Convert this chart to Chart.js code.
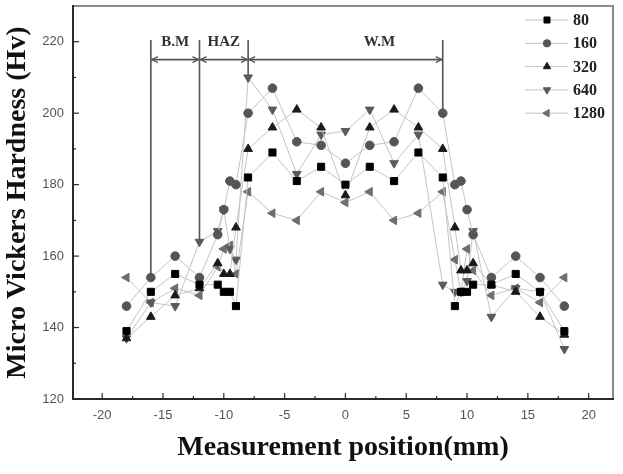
<!DOCTYPE html>
<html><head><meta charset="utf-8">
<script src="https://cdn.jsdelivr.net/npm/chart.js@4.4.0/dist/chart.umd.min.js"></script>
<style>html,body{margin:0;padding:0;background:#fff}canvas{display:block}</style>
</head><body>
<canvas id="c" width="623" height="474"></canvas>
<script>
// ---- data ----
const positions = [-18,-16,-14,-12,-10.5,-10,-9.5,-9,-8,-6,-4,-2,0,2,4,6,8,9,9.5,10,10.5,12,14,16,18];
const seriesNames = ['80','160','320','640','1280'];
const hv80   = [139,150,155,152,152,150,150,146,182,189,181,185,180,185,181,189,182,146,150,150,152,152,155,150,139];
const hv160  = [146,154,160,154,166,173,181,180,200,207,192,191,186,191,192,207,200,180,181,173,166,154,160,154,146];
const hv320  = [137,143,149,151,158,155,155,168,190,196,201,196,177,196,201,196,190,168,156,156,158,152,150,143,138];
const hv640  = [137,147,146,164,167,173,162,159,210,201,183,194,195,201,186,194,152,150,150,153,167,143,151,150,134];
const hv1280 = [154,147,151,149,157,162,163,155,178,172,170,178,175,178,170,172,178,159,150,162,156,149,151,147,154];
const xTickValues = [-20,-15,-10,-5,0,5,10,15,20];
const xMinorTicks = [-17.5,-12.5,-7.5,-2.5,2.5,7.5,12.5,17.5];
const yTickValues = [120,140,160,180,200,220];
const yMinorTicks = [130,150,170,190,210];
const xRange = [-22.4, 22];
const yRange = [120, 230];
const zoneBounds = [-16,-12,-8,8];
const zoneLineEnds = [155,164,210,200];
const zoneLineTop = 220.5;
const zoneArrowLevel = 215;
const zoneLabels = ['B.M','HAZ','W.M'];
const zoneLabelX = [-14,-10,2.8];
const zoneLabelLevel = 219;

// ---- styles ----
const markerStyles = [
  {pointStyle:'rect', color:'#000000', radius:5, rotation:0},
  {pointStyle:'circle', color:'#555555', radius:4.3, rotation:0},
  {pointStyle:'triangle', color:'#1a1a1a', radius:5, rotation:0},
  {pointStyle:'triangle', color:'#5a5a5a', radius:5, rotation:180},
  {pointStyle:'triangle', color:'#6e6e6e', radius:5, rotation:-90}
];
const allValues = [hv80,hv160,hv320,hv640,hv1280];
const datasets = allValues.map((vals,i)=>({
  label: seriesNames[i],
  data: positions.map((p,j)=>({x:p,y:vals[j]})),
  borderColor:'#c4c4c4', borderWidth:1,
  pointStyle: markerStyles[i].pointStyle,
  pointRadius: markerStyles[i].radius,
  pointRotation: markerStyles[i].rotation,
  pointBackgroundColor: markerStyles[i].color,
  pointBorderColor: markerStyles[i].color,
  pointBorderWidth: 1,
  tension:0, fill:false
}));

const decor = {
  id:'decor',
  beforeDatasetsDraw(chart){
    const ctx = chart.ctx, x = chart.scales.x, y = chart.scales.y;
    ctx.save();
    ctx.strokeStyle='#555'; ctx.lineWidth=1.6;
    const yTop=y.getPixelForValue(zoneLineTop), yArr=y.getPixelForValue(zoneArrowLevel);
    ctx.beginPath();
    zoneBounds.forEach((b,i)=>{const px=x.getPixelForValue(b); ctx.moveTo(px,yTop); ctx.lineTo(px,y.getPixelForValue(zoneLineEnds[i]));});
    ctx.moveTo(x.getPixelForValue(zoneBounds[0]),yArr); ctx.lineTo(x.getPixelForValue(zoneBounds[zoneBounds.length-1]),yArr);
    ctx.stroke();
    ctx.lineWidth=1.2;
    ctx.beginPath();
    for(let i=0;i<zoneBounds.length-1;i++){
      const l=x.getPixelForValue(zoneBounds[i])+1, r=x.getPixelForValue(zoneBounds[i+1])-1;
      ctx.moveTo(l+6,yArr-3); ctx.lineTo(l,yArr); ctx.lineTo(l+6,yArr+3);
      ctx.moveTo(r-6,yArr-3); ctx.lineTo(r,yArr); ctx.lineTo(r-6,yArr+3);
    }
    ctx.stroke();
    ctx.fillStyle='#333'; ctx.font='bold 15px "Liberation Serif"'; ctx.textAlign='center'; ctx.textBaseline='alphabetic';
    zoneLabels.forEach((t,i)=>ctx.fillText(t, x.getPixelForValue(zoneLabelX[i]), y.getPixelForValue(zoneLabelLevel)+1));
    ctx.restore();
  },
  afterDraw(chart){
    const ctx = chart.ctx, x = chart.scales.x, y = chart.scales.y;
    const L = x.getPixelForValue(xRange[0]), R = x.getPixelForValue(xRange[1]);
    const T = y.getPixelForValue(yRange[1]), B = y.getPixelForValue(yRange[0]);
    ctx.save();
    ctx.setLineDash([]);
    ctx.globalAlpha = 1;
    // frame: gray box, then dark left/bottom axes
    ctx.strokeStyle='#8a8a8a'; ctx.lineWidth=2;
    ctx.strokeRect(L, T, R-L, B-T);
    ctx.fillStyle='#2a2a2a';
    ctx.fillRect(L-1, T-1, 2, B-T+2);
    ctx.fillRect(L-1, B-1, R-L+2, 2);
    // inward ticks
    xTickValues.forEach(v=>{const px=x.getPixelForValue(v); ctx.fillRect(px-0.6,B-6,1.2,6);});
    xMinorTicks.forEach(v=>{const px=x.getPixelForValue(v); ctx.fillRect(px-0.6,B-3,1.2,3);});
    yTickValues.forEach(v=>{const py=y.getPixelForValue(v); ctx.fillRect(L,py-0.6,6,1.2);});
    yMinorTicks.forEach(v=>{const py=y.getPixelForValue(v); ctx.fillRect(L,py-0.6,3,1.2);});
    // legend
    const x0=525, x1=568, xm=547, xt=573, y0=20, dy=23.3;
    chart.data.datasets.forEach((ds,i)=>{
      const yy=y0+i*dy;
      ctx.strokeStyle='#c4c4c4'; ctx.lineWidth=1;
      ctx.beginPath(); ctx.moveTo(x0,yy); ctx.lineTo(x1,yy); ctx.stroke();
      ctx.fillStyle=ds.pointBackgroundColor; ctx.strokeStyle=ds.pointBorderColor; ctx.lineWidth=1;
      Chart.helpers.drawPoint(ctx,{pointStyle:ds.pointStyle, radius:ds.pointRadius*0.85, rotation:ds.pointRotation, borderWidth:1},xm,yy);
      ctx.fillStyle='#222'; ctx.font='bold 16px "Liberation Serif"'; ctx.textAlign='left'; ctx.textBaseline='middle';
      ctx.fillText(ds.label, xt, yy+1);
    });
    ctx.restore();
  }
};

new Chart(document.getElementById('c'), {
  type:'line',
  data:{datasets},
  options:{
    responsive:false, animation:false,
    layout:{padding:{top:5,right:10,left:0,bottom:0}},
    plugins:{legend:{display:false}, tooltip:{enabled:false}},
    scales:{
      x:{type:'linear', min:xRange[0], max:xRange[1],
        afterBuildTicks:s=>{s.ticks=xTickValues.map(v=>({value:v}));},
        afterFit:s=>{s.height=75; s.paddingLeft=0; s.paddingRight=0;},
        grid:{display:false, drawTicks:false}, border:{display:false},
        ticks:{color:'#555', font:{family:'Liberation Sans', size:13}, padding:9, maxRotation:0, callback:v=>String(v)},
        title:{display:true, text:'Measurement position(mm)', color:'#111', font:{family:'Liberation Serif', size:28, weight:'bold'}, padding:{top:0,bottom:9}}
      },
      y:{type:'linear', min:yRange[0], max:yRange[1],
        afterBuildTicks:s=>{s.ticks=yTickValues.map(v=>({value:v}));},
        afterFit:s=>{s.width=73; s.paddingTop=0; s.paddingBottom=0;},
        grid:{display:false, drawTicks:false}, border:{display:false},
        ticks:{color:'#555', font:{family:'Liberation Sans', size:13}, padding:9, callback:v=>String(v)},
        title:{display:true, text:'Micro Vickers Hardness (Hv)', color:'#111', font:{family:'Liberation Serif', size:28, weight:'bold'}, padding:{top:1,bottom:0}}
      }
    }
  },
  plugins:[decor]
});
</script>
</body></html>
